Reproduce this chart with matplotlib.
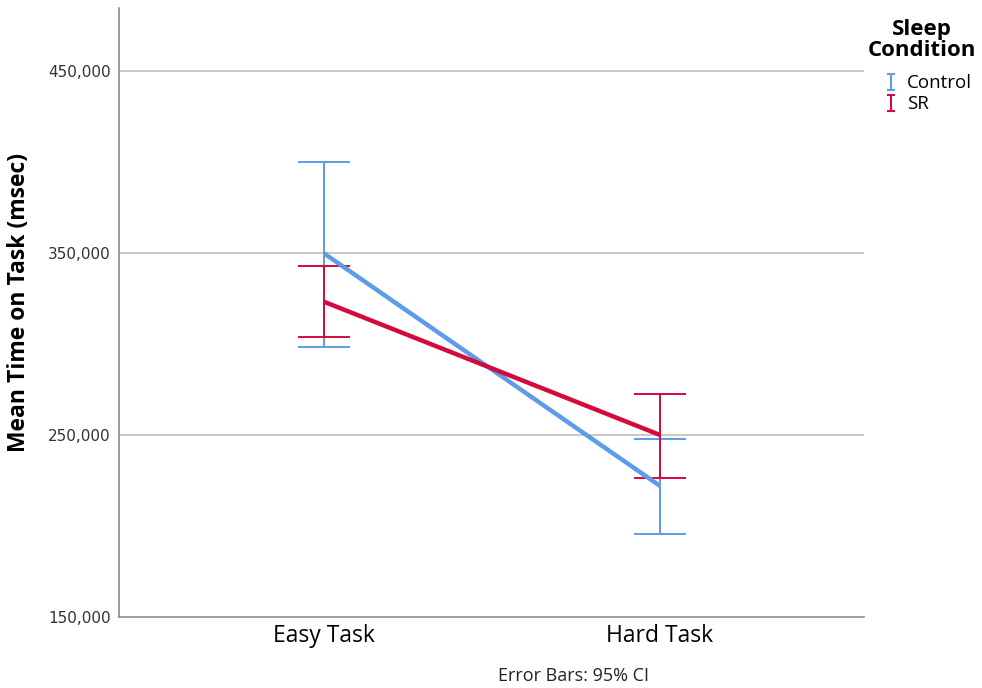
import matplotlib
matplotlib.use("Agg")
import matplotlib.pyplot as plt
from matplotlib.path import Path
from matplotlib.lines import Line2D
from matplotlib.ticker import FuncFormatter

# Means and 95% CI bounds per task, per sleep condition
tasks = ["Easy Task", "Hard Task"]
control_mean = [349800, 222000]
control_lo = [298500, 195600]
control_hi = [400200, 247800]
sr_mean = [323200, 250000]
sr_lo = [304000, 226200]
sr_hi = [343000, 272500]

y_ticks = [150000, 250000, 350000, 450000]

blue = "#5e9ce8"
red = "#d30a3e"
label_font = "Open Sans"

fig = plt.figure(figsize=(9.82, 6.88), dpi=100)
ax = fig.add_axes([119 / 982, 1 - 617 / 688, 745 / 982, 609 / 688])

x = list(range(len(tasks)))

def draw_group(mean, lo, hi, color):
    err = [[m - l for m, l in zip(mean, lo)], [h - m for m, h in zip(mean, hi)]]
    ax.errorbar(x, mean, yerr=err, fmt="none", ecolor=color, elinewidth=1.4,
                capsize=18.7, capthick=1.4, zorder=3)
    ax.plot(x, mean, color=color, lw=3.2, solid_capstyle="butt", zorder=4)

draw_group(control_mean, control_lo, control_hi, blue)
draw_group(sr_mean, sr_lo, sr_hi, red)

ax.set_xlim(-0.610, 1.607)
ax.set_ylim(150000, 484600)
ax.set_yticks(y_ticks)
ax.yaxis.set_major_formatter(FuncFormatter(lambda v, p: f"{int(v):,}"))
ax.set_xticks(x)
ax.set_xticklabels(tasks, fontsize=16.5, family=label_font)
ax.tick_params(axis="both", length=0)
ax.tick_params(axis="y", labelsize=11, colors="#333333", pad=6)
ax.tick_params(axis="x", pad=5)
for lab in ax.get_yticklabels():
    lab.set_family("DejaVu Sans")

# horizontal reference lines except at the baseline
for t in y_ticks[1:]:
    ax.axhline(t, color="#c8c8c8", lw=1.4, zorder=1)

for s in ["top", "right"]:
    ax.spines[s].set_visible(False)
for s in ["left", "bottom"]:
    ax.spines[s].set_color("#8c8c8c")
    ax.spines[s].set_linewidth(1.2)

ax.set_ylabel("Mean Time on Task (msec)", fontsize=16.5, fontweight="bold",
              family=label_font)
ax.yaxis.set_label_coords(-0.118, 0.516)

# legend: centred two-line title above I-beam entries
fig.text(922 / 982, 1 - 40 / 688, "Sleep\nCondition", ha="center", va="center",
         fontsize=16, fontweight="bold", family=label_font, linespacing=0.95)

ibeam = Path([(-0.5, 1), (0.5, 1), (0, 1), (0, -1), (-0.5, -1), (0.5, -1)],
             [Path.MOVETO, Path.LINETO, Path.MOVETO, Path.LINETO,
              Path.MOVETO, Path.LINETO])
handles = [Line2D([], [], ls="none", marker=ibeam, markersize=12,
                  markeredgecolor=c, markeredgewidth=1.5)
           for c in (blue, red)]
fig.legend(handles, ["Control", "SR"], loc="upper left",
           bbox_to_anchor=(876 / 982, 1 - 67 / 688), borderaxespad=0,
           frameon=False, handlelength=0.8, handletextpad=0.45,
           labelspacing=0.15, prop={"family": label_font, "size": 13.5})

fig.text(573 / 982, 1 - 676 / 688, "Error Bars: 95% CI", ha="center",
         va="center", fontsize=13, family=label_font, color="#222222")

fig.savefig("out.png", dpi=100)
